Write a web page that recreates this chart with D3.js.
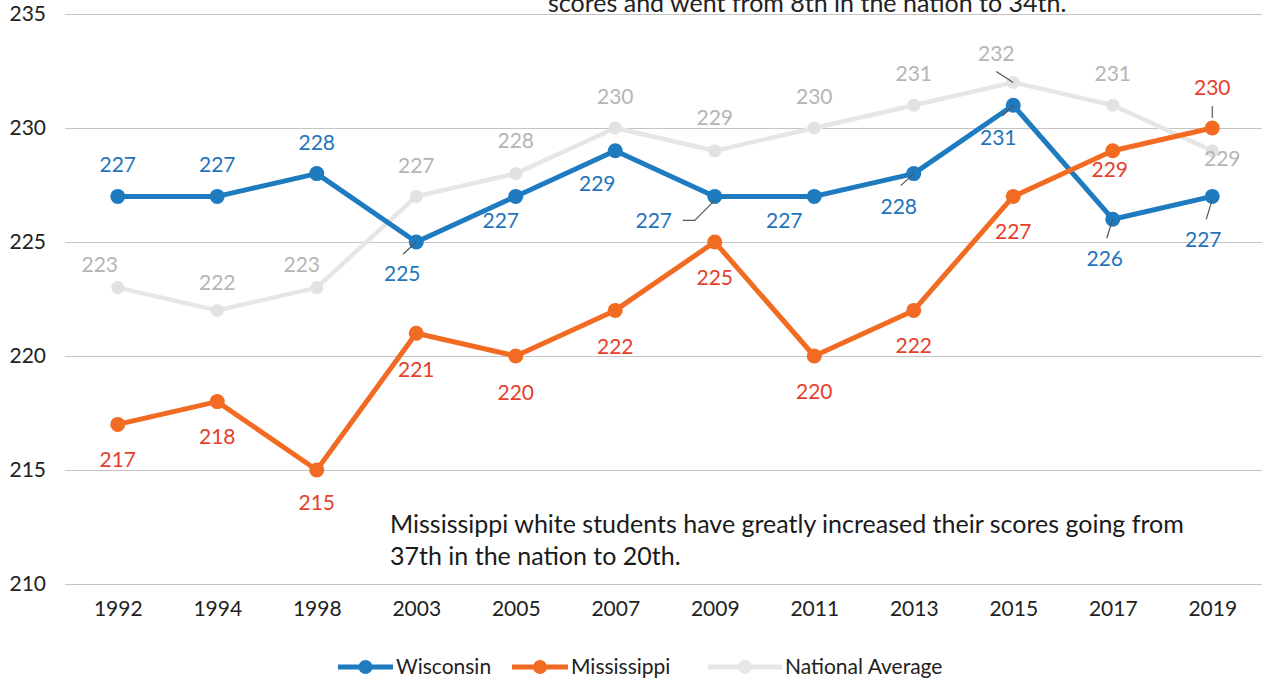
<!DOCTYPE html>
<html>
<head>
<meta charset="utf-8">
<script src="https://cdn.jsdelivr.net/npm/d3@7"></script>
<style>
  body { margin: 0; background: #fff; }
  svg { font-family: Lato, "Open Sans", sans-serif; }
  .grid line { stroke: #c4c4c4; stroke-width: 1; }
</style>
</head>
<body>
<script>
(function(){

//chart data
var years = ["1992","1994","1998","2003","2005","2007","2009","2011","2013","2015","2017","2019"];
var wisconsin = [227, 227, 228, 225, 227, 229, 227, 227, 228, 231, 226, 227];
var mississippi = [217, 218, 215, 221, 220, 222, 225, 220, 222, 227, 229, 230];
var nationalAvg = [223, 222, 223, 227, 228, 230, 229, 230, 231, 232, 231, 229];
var yTicks = [210, 215, 220, 225, 230, 235];
var seriesNames = ["Wisconsin", "Mississippi", "National Average"];
var noteMs = ["Mississippi white students have greatly increased their scores going from", "37th in the nation to 20th."];
var noteWi = "scores and went from 8th in the nation to 34th.";

//label offsets (dx, dy of label centre from point), per series
var wiOff = [[0,-32],[0,-32],[0,-31],[-14,31],[-15,24],[-18,33],[-61,24],[-30,24],[-15,33],[-15,32],[-8,39],[-9,43]];
var msOff = [[0,35],[0,35],[0,32],[0,36],[0,36],[0,36],[0,35],[0,35],[0,35],[0,35],[-3,19],[0,-41]];
var naOff = [[-18,-23],[0,-28],[-15,-23],[0,-31],[0,-33],[0,-32],[0,-33],[0,-32],[0,-32],[-17,-29],[0,-32],[10,8]];

var width = 1262, height = 684;

var svg = d3.select("body").append("svg")
    .attr("width", width)
    .attr("height", height);

var x = d3.scalePoint()
    .domain(years)
    .range([68, 1262])
    .padding(0.5);

var y = d3.scaleLinear()
    .domain([210, 235])
    .range([584, 14]);

//gridlines
var grid = svg.append("g").attr("class", "grid");
grid.selectAll("line")
    .data(yTicks)
    .enter()
    .append("line")
    .attr("x1", 65)
    .attr("x2", width)
    .attr("y1", function(d){ return Math.round(y(d)) + 0.5; })
    .attr("y2", function(d){ return Math.round(y(d)) + 0.5; });

//y axis labels
var yAxis = d3.axisLeft(y).tickValues(yTicks).tickSize(0).tickPadding(0);
var gy = svg.append("g").attr("transform", "translate(46,0)").call(yAxis);
gy.select(".domain").remove();
gy.selectAll("text").style("font-size", "21px").style("fill", "#222").style("font-family", "Lato");

//x axis labels
var xAxis = d3.axisBottom(x).tickSize(0).tickPadding(0);
var gx = svg.append("g").attr("transform", "translate(0,601)").call(xAxis);
gx.select(".domain").remove();
gx.selectAll("text").style("font-size", "21px").style("fill", "#222").style("font-family", "Lato");

//top annotation (partly cut off, as in the source)
svg.append("text")
    .attr("x", 548)
    .attr("y", 12)
    .style("font-size", "25px")
    .style("fill", "#222")
    .text(noteWi);

var line = d3.line()
    .x(function(d, i){ return x(years[i]); })
    .y(function(d){ return y(d); });

var series = [
    {vals: nationalAvg, line: "#e6e6e6", dot: "#e2e2e2", label: "#b5b5b5", off: naOff, w: 4.5, r: 6.5},
    {vals: wisconsin, line: "#1f7bc0", dot: "#1f7bc0", label: "#1f74bb", off: wiOff, w: 5, r: 7.5},
    {vals: mississippi, line: "#f26b22", dot: "#f26b22", label: "#e5402b", off: msOff, w: 5, r: 7.5}
];

//leader lines [series index, point index, then relative points]
var leaders = [
    [1, 3, 0, 0, -13, 12],
    [1, 6, 0, 4, -20, 24, -32, 24],
    [1, 8, 0, 0, -13, 12],
    [1, 9, 0, 0, -11, 11],
    [1, 10, 0, 0, -6, 19],
    [1, 11, 0, 3, -6, 23],
    [2, 11, 0, -10, 0, -22],
    [0, 9, 0, 0, -17, -11]
];

series.forEach(function(s){
    svg.append("path")
        .datum(s.vals)
        .attr("d", line)
        .attr("fill", "none")
        .attr("stroke", s.line)
        .attr("stroke-width", s.w)
        .attr("stroke-linejoin", "round");
    svg.selectAll(null)
        .data(s.vals)
        .enter()
        .append("circle")
        .attr("cx", function(d, i){ return x(years[i]); })
        .attr("cy", function(d){ return y(d); })
        .attr("r", s.r)
        .attr("fill", s.dot);
});

leaders.forEach(function(l){
    var s = series[l[0]];
    var px = x(years[l[1]]), py = y(s.vals[l[1]]);
    var pts = [];
    for (var k = 2; k < l.length; k += 2) pts.push([px + l[k], py + l[k+1]]);
    svg.append("path")
        .attr("d", d3.line()(pts))
        .attr("fill", "none")
        .attr("stroke", "#555")
        .attr("stroke-width", 1.2);
});

series.forEach(function(s){
    svg.selectAll(null)
        .data(s.vals)
        .enter()
        .append("text")
        .attr("x", function(d, i){ return x(years[i]) + s.off[i][0]; })
        .attr("y", function(d, i){ return y(d) + s.off[i][1]; })
        .attr("dy", "0.36em")
        .attr("text-anchor", "middle")
        .style("font-size", "21px")
        .style("fill", s.label)
        .text(function(d){ return d; });
});

//bottom annotation
svg.append("text")
    .attr("x", 390)
    .attr("y", 533)
    .style("font-size", "25px")
    .style("fill", "#1a1a1a")
    .selectAll("tspan")
    .data(noteMs)
    .enter()
    .append("tspan")
    .attr("x", 390)
    .attr("dy", function(d, i){ return i === 0 ? 0 : 32; })
    .text(function(d){ return d; });

//legend
var legendItems = [
    {name: seriesNames[0], color: "#1f7bc0", x1: 338, x2: 393, tx: 396},
    {name: seriesNames[1], color: "#f26b22", x1: 512, x2: 568, tx: 571},
    {name: seriesNames[2], color: "#e6e6e6", x1: 708, x2: 782, tx: 785}
];
var legend = svg.append("g").attr("transform", "translate(0,667)");
legendItems.forEach(function(d){
    legend.append("line")
        .attr("x1", d.x1).attr("x2", d.x2)
        .attr("stroke", d.color).attr("stroke-width", 5);
    legend.append("circle")
        .attr("cx", (d.x1 + d.x2) / 2).attr("r", 7)
        .attr("fill", d.color);
    legend.append("text")
        .attr("x", d.tx)
        .attr("dy", "0.35em")
        .style("font-size", "21px")
        .style("fill", "#222")
        .text(d.name);
});

})();
</script>
</body>
</html>
